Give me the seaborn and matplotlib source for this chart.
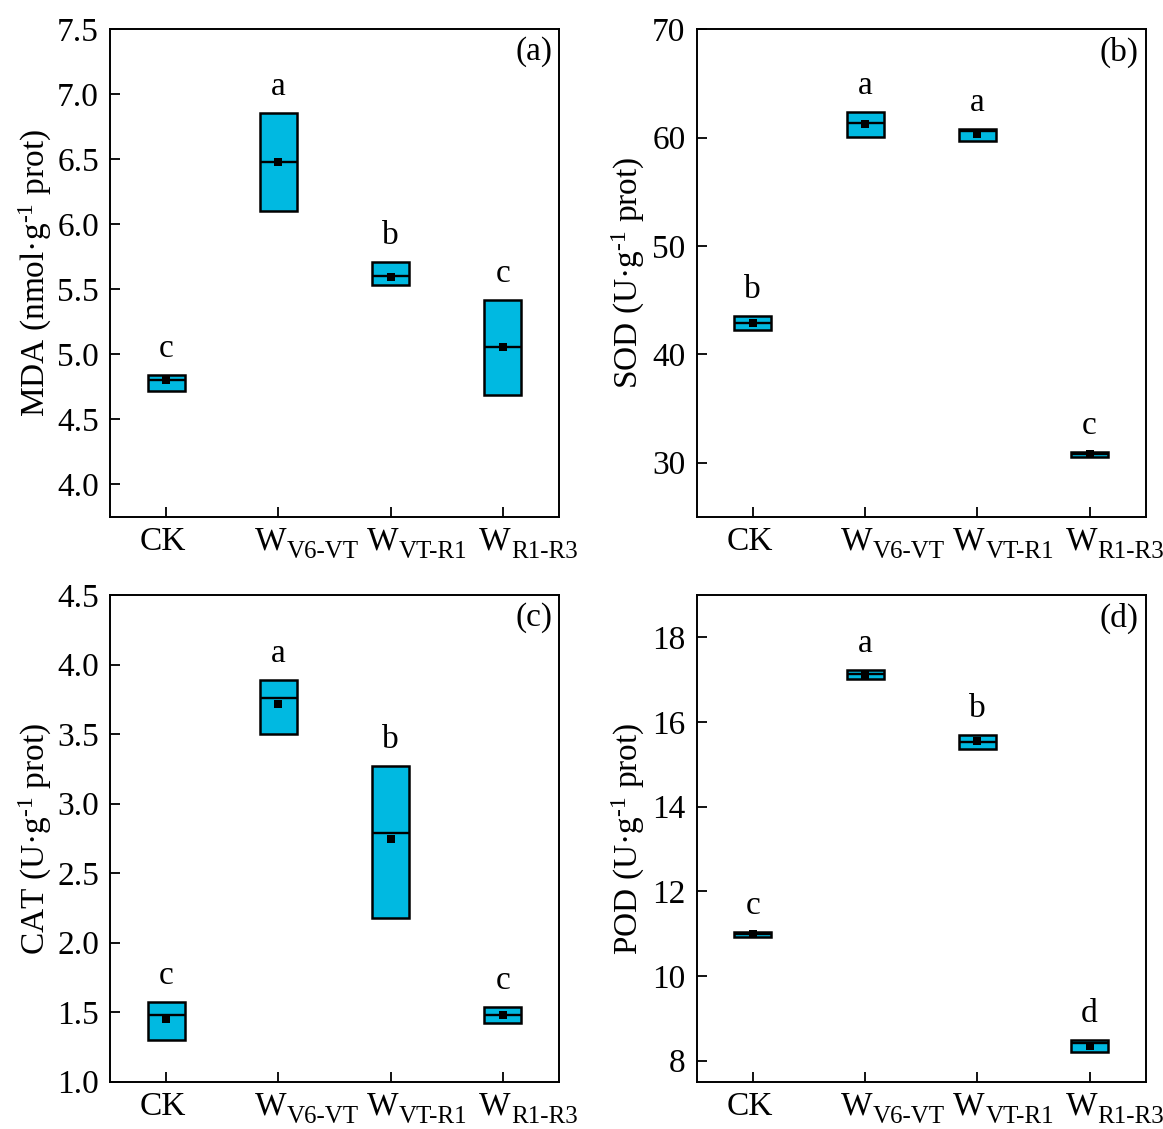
import numpy as np
import pandas as pd
import matplotlib
matplotlib.use("Agg")
import matplotlib.pyplot as plt
from matplotlib.ticker import FormatStrFormatter
from matplotlib.transforms import ScaledTranslation, blended_transform_factory
import seaborn as sns

# ---------------- data ----------------
groups = ["CK", "W_V6-VT", "W_VT-R1", "W_R1-R3"]
tick_main = ["CK", "W", "W", "W"]
tick_sub = ["", "V6-VT", "VT-R1", "R1-R3"]

mda_low = [4.72, 6.105, 5.536, 4.69]
mda_high = [4.84, 6.856, 5.71, 5.415]
mda_median = [4.80, 6.48, 5.60, 5.056]
mda_mean = [4.80, 6.48, 5.595, 5.056]
mda_letters = ["c", "a", "b", "c"]

sod_low = [42.27, 60.05, 59.69, 30.51]
sod_high = [43.5, 62.36, 60.77, 30.97]
sod_median = [42.88, 61.38, 60.58, 30.76]
sod_mean = [42.88, 61.29, 60.37, 30.76]
sod_letters = ["b", "a", "a", "c"]

cat_low = [1.30, 3.499, 2.18, 1.42]
cat_high = [1.573, 3.892, 3.268, 1.54]
cat_median = [1.482, 3.760, 2.791, 1.482]
cat_mean = [1.453, 3.719, 2.748, 1.48]
cat_letters = ["c", "a", "b", "c"]

pod_low = [10.93, 17.015, 15.37, 8.19]
pod_high = [11.045, 17.22, 15.69, 8.49]
pod_median = [10.99, 17.126, 15.53, 8.41]
pod_mean = [11.0, 17.12, 15.55, 8.345]
pod_letters = ["c", "a", "b", "d"]

CYAN = "#00B9E1"
BOX_W = 0.33

sns.set_style("ticks")
plt.rcParams["font.family"] = ["Liberation Serif", "DejaVu Serif"]
plt.rcParams["mathtext.fontset"] = "custom"
plt.rcParams["mathtext.rm"] = "Liberation Serif"
plt.rcParams["mathtext.it"] = "Liberation Serif:italic"
plt.rcParams["mathtext.bf"] = "Liberation Serif:bold"
plt.rcParams["xtick.direction"] = "in"
plt.rcParams["ytick.direction"] = "in"
for k in ["text.color", "axes.labelcolor", "xtick.color", "ytick.color",
          "axes.edgecolor"]:
    plt.rcParams[k] = "black"

FS = 24
FS_SUB = 18
DPI = 100

fig = plt.figure(figsize=(11.63, 11.29), dpi=DPI)
W, H = 0.3861, 0.4317
axes_pos = [[0.0946, 0.5423, W, H], [0.599, 0.5423, W, H],
            [0.0946, 0.0419, W, 0.4310], [0.599, 0.0419, W, 0.4310]]


def px(dx, dy):
    return ScaledTranslation(dx / DPI, dy / DPI, fig.dpi_scale_trans)


def draw(ax, low, high, med, mean, letters, ylim, yticks, fmt, ylabel, tag, label_x):
    low = np.asarray(low, float)
    high = np.asarray(high, float)
    df = pd.DataFrame({"group": groups, "span": high - low, "low": low,
                       "median": med, "mean": mean})
    sns.barplot(data=df, x="group", y="span", order=groups, bottom=low,
                color=CYAN, saturation=1, edgecolor="black", linewidth=1.8,
                width=BOX_W, errorbar=None, ax=ax, zorder=2)
    xs = np.arange(len(groups))
    ax.hlines(med, xs - BOX_W / 2, xs + BOX_W / 2, colors="black",
              linewidth=1.7, zorder=3)
    sns.stripplot(data=df, x="group", y="mean", order=groups, jitter=False,
                  marker="s", color="black", size=5.5, ax=ax, zorder=4)
    for i, (h, t) in enumerate(zip(high, letters)):
        ax.annotate(t, (i, h), xytext=(0, 8), textcoords="offset points",
                    ha="center", va="bottom", fontsize=FS)
    ax.set_xlim(-0.5, len(groups) - 0.5)
    ax.set_ylim(*ylim)
    ax.set_yticks(yticks)
    if fmt:
        ax.yaxis.set_major_formatter(FormatStrFormatter(fmt))
    ax.set_xticks(xs)
    ax.set_xticklabels([""] * len(groups))
    # category labels with Origin-like subscripts
    trans = blended_transform_factory(ax.transData, ax.transAxes)
    for i, (m, s) in enumerate(zip(tick_main, tick_sub)):
        if s:
            ax.text(i, 0, m, transform=trans + px(-24, -33), ha="left",
                    va="baseline", fontsize=FS)
            ax.text(i, 0, s, transform=trans + px(8, -41), ha="left",
                    va="baseline", fontsize=FS_SUB)
        else:
            ax.text(i, 0, m, transform=trans + px(-3, -33), ha="center",
                    va="baseline", fontsize=FS)
    ax.set_xlabel("")
    ax.set_ylabel(ylabel, fontsize=FS)
    ax.yaxis.set_label_coords(label_x, 0.5)
    ax.tick_params(axis="both", labelsize=FS, length=7, width=1.3,
                   direction="in", top=False, right=False, colors="black")
    ax.tick_params(axis="y", pad=8)
    for s in ax.spines.values():
        s.set_visible(True)
        s.set_linewidth(1.4)
        s.set_color("black")
    ax.text(0.985, 0.985, tag, transform=ax.transAxes, ha="right", va="top",
            fontsize=FS)


axs = [fig.add_axes(p) for p in axes_pos]
draw(axs[0], mda_low, mda_high, mda_median, mda_mean, mda_letters,
     (3.75, 7.5), np.arange(4.0, 7.51, 0.5), "%.1f",
     "MDA (nmol·g$^{‐1}$ prot)", "(a)", -0.125)
draw(axs[1], sod_low, sod_high, sod_median, sod_mean, sod_letters,
     (25, 70), [30, 40, 50, 60, 70], None,
     "SOD (U·g$^{‐1}$ prot)", "(b)", -0.11)
draw(axs[2], cat_low, cat_high, cat_median, cat_mean, cat_letters,
     (1.0, 4.5), np.arange(1.0, 4.51, 0.5), "%.1f",
     "CAT (U·g$^{‐1}$ prot)", "(c)", -0.125)
draw(axs[3], pod_low, pod_high, pod_median, pod_mean, pod_letters,
     (7.5, 19), [8, 10, 12, 14, 16, 18], None,
     "POD (U·g$^{‐1}$ prot)", "(d)", -0.11)

fig.savefig("out.png", dpi=DPI)
